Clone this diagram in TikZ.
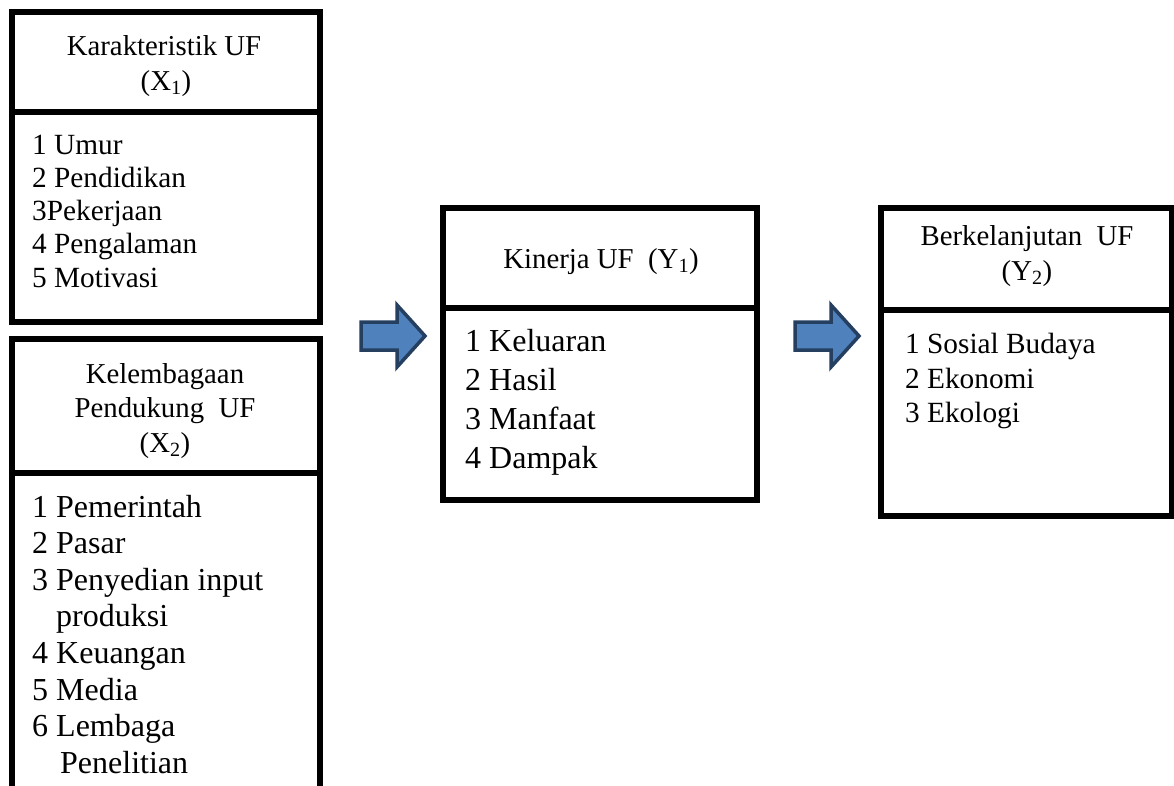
\documentclass[tikz,border=0pt]{standalone}
\usepackage{fontspec}
\setmainfont{Liberation Serif}
\definecolor{arrfill}{HTML}{4F81BD}
\definecolor{arrline}{HTML}{243F60}
\tikzset{
  boxframe/.style={draw=black, line width=6pt, rectangle, inner sep=0pt, outer sep=0pt},
  divline/.style={draw=black, line width=6pt},
  ttl/.style={anchor=base, inner sep=0pt, font=\fontsize{28.8}{34}\selectfont},
  itA/.style={anchor=base west, inner sep=0pt, font=\fontsize{29.3}{34}\selectfont},
  itB/.style={anchor=base west, inner sep=0pt, font=\fontsize{32}{37}\selectfont},
  blockarrow/.style={fill=arrfill, draw=arrline, line width=3.5pt, line join=miter}
}
\begin{document}
\begin{tikzpicture}[x=1pt,y=-1pt]
\clip (0,0) rectangle (1174,785);
\fill[white] (0,0) rectangle (1174,785);

% Box X1
\node[boxframe, minimum width=308pt, minimum height=310.5pt] (x1) at (165.5,166.75) {};
\coordinate (x1dl) at (11.5,112);
\coordinate (x1dr) at (319.5,112);
\draw[divline] (x1dl) -- (x1dr);
\node[ttl] (x1t1) at (164,55) {Karakteristik UF};
\node[ttl] (x1t2) at (166,90) {(X\textsubscript{1})};
\node[itA] (x1i1) at (32,154) {1 Umur};
\node[itA] (x1i2) at (32,187) {2 Pendidikan};
\node[itA] (x1i3) at (32,220) {3Pekerjaan};
\node[itA] (x1i4) at (32,253) {4 Pengalaman};
\node[itA] (x1i5) at (32,287) {5 Motivasi};

% Box X2
\node[boxframe, minimum width=308pt, minimum height=461pt] (x2) at (165.5,569.5) {};
\coordinate (x2dl) at (11.5,473);
\coordinate (x2dr) at (319.5,473);
\draw[divline] (x2dl) -- (x2dr);
\node[ttl] (x2t1) at (165,383) {Kelembagaan};
\node[ttl] (x2t2) at (165,417) {Pendukung\ \ UF};
\node[ttl] (x2t3) at (165,452) {(X\textsubscript{2})};
\node[itB] (x2i1) at (32,517) {1 Pemerintah};
\node[itB] (x2i2) at (32,553.6) {2 Pasar};
\node[itB] (x2i3) at (32,590) {3 Penyedian input};
\node[itB] (x2i3b) at (56,626.8) {produksi};
\node[itB] (x2i4) at (32,663.4) {4 Keuangan};
\node[itB] (x2i5) at (32,700) {5 Media};
\node[itB] (x2i6) at (32,736.6) {6 Lembaga};
\node[itB] (x2i6b) at (60,773.2) {Penelitian};

% Arrow 1
\draw[blockarrow] (361,322) -- (397,322) -- (397,305) -- (425,336) -- (397,367) -- (397,350) -- (361,350) -- cycle;

% Box Y1
\node[boxframe, minimum width=314pt, minimum height=292pt] (y1) at (600,354) {};
\coordinate (y1dl) at (443,308);
\coordinate (y1dr) at (757,308);
\draw[divline] (y1dl) -- (y1dr);
\node[ttl] (y1t) at (601,268) {Kinerja UF\ \ (Y\textsubscript{1})};
\node[itB] (y1i1) at (465,351.7) {1 Keluaran};
\node[itB] (y1i2) at (465,390.5) {2 Hasil};
\node[itB] (y1i3) at (465,429.3) {3 Manfaat};
\node[itB] (y1i4) at (465,468) {4 Dampak};

% Arrow 2
\begin{scope}[xshift=434pt]
\draw[blockarrow] (361,322) -- (397,322) -- (397,305) -- (425,336) -- (397,367) -- (397,350) -- (361,350) -- cycle;
\end{scope}

% Box Y2
\node[boxframe, minimum width=291pt, minimum height=308pt] (y2) at (1026.5,362) {};
\coordinate (y2dl) at (881,310);
\coordinate (y2dr) at (1172,310);
\draw[divline] (y2dl) -- (y2dr);
\node[ttl] (y2t1) at (1027,245) {Berkelanjutan\ \ UF};
\node[ttl] (y2t2) at (1027,280) {(Y\textsubscript{2})};
\node[itA] (y2i1) at (905,353) {1 Sosial Budaya};
\node[itA] (y2i2) at (905,388) {2 Ekonomi};
\node[itA] (y2i3) at (905,422) {3 Ekologi};
\end{tikzpicture}
\end{document}
